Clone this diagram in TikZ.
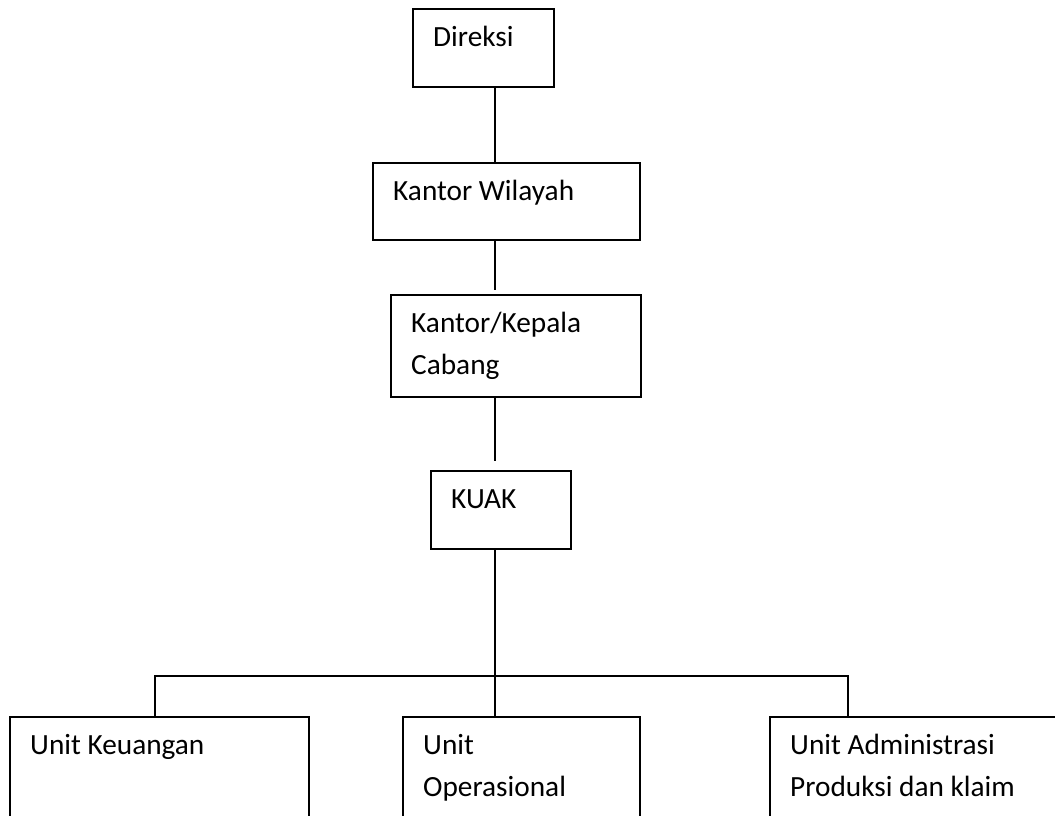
\documentclass[tikz,border=0pt]{standalone}
\usepackage{fontspec}
\setmainfont{Carlito}
\usetikzlibrary{positioning}

\begin{document}
\begin{tikzpicture}
	[x=1pt, y=-1pt,
	orgbox/.style 2 args={draw, line width=1.8pt, rectangle, anchor=north west, inner sep=0pt, minimum width=#1, minimum height=#2},
	boxtext/.style={anchor=north west, inner sep=0pt, align=left, xshift=21pt, yshift=-9pt, font=\fontsize{29.3}{42}\selectfont},
	link/.style={line width=1.5pt}]
	\useasboundingbox (0,0) rectangle (1055,816);
	\clip (0,0) rectangle (1055,816);
	
	\node (dir) [orgbox={141pt}{78pt}] at (412,8) {};\node (dir-t) [boxtext] at (dir.north west) {\strut Direksi};
	\node (wil) [orgbox={267pt}{77pt}] at (372,162) {};\node (wil-t) [boxtext] at (wil.north west) {\strut Kantor Wilayah};
	\node (cab) [orgbox={250pt}{102pt}] at (390,294) {};\node (cab-t) [boxtext] at (cab.north west) {\strut Kantor/Kepala\\Cabang};
	\node (kuak) [orgbox={140pt}{78pt}] at (430,470) {};\node (kuak-t) [boxtext] at (kuak.north west) {\strut KUAK};
	\node (keu) [orgbox={299pt}{200pt}] at (9,716) {};\node (keu-t) [boxtext] at (keu.north west) {\strut Unit Keuangan};
	\node (ops) [orgbox={237pt}{200pt}] at (402,716) {};\node (ops-t) [boxtext] at (ops.north west) {\strut Unit\\Operasional};
	\node (adm) [orgbox={340pt}{200pt}] at (769,716) {};\node (adm-t) [boxtext] at (adm.north west) {\strut Unit Administrasi\\Produksi dan klaim};
	
	\coordinate (spine) at (495,0);
	\coordinate (bus) at (495,676);
	\coordinate (busL) at (155,676);
	\coordinate (busR) at (848,676);
	
	\draw[link] (dir.south -| spine) -- (wil.north -| spine);
	\draw[link, shorten >=4pt] (wil.south -| spine) -- (cab.north -| spine);
	\draw[link, shorten >=9pt] (cab.south -| spine) -- (kuak.north -| spine);
	\draw[link] (kuak.south -| spine) -- (bus);
	\draw[link] (keu.north -| busL) -- (busL) -- (busR) -- (adm.north -| busR);
	\draw[link] (bus) -- (ops.north -| bus);
\end{tikzpicture}
\end{document}
